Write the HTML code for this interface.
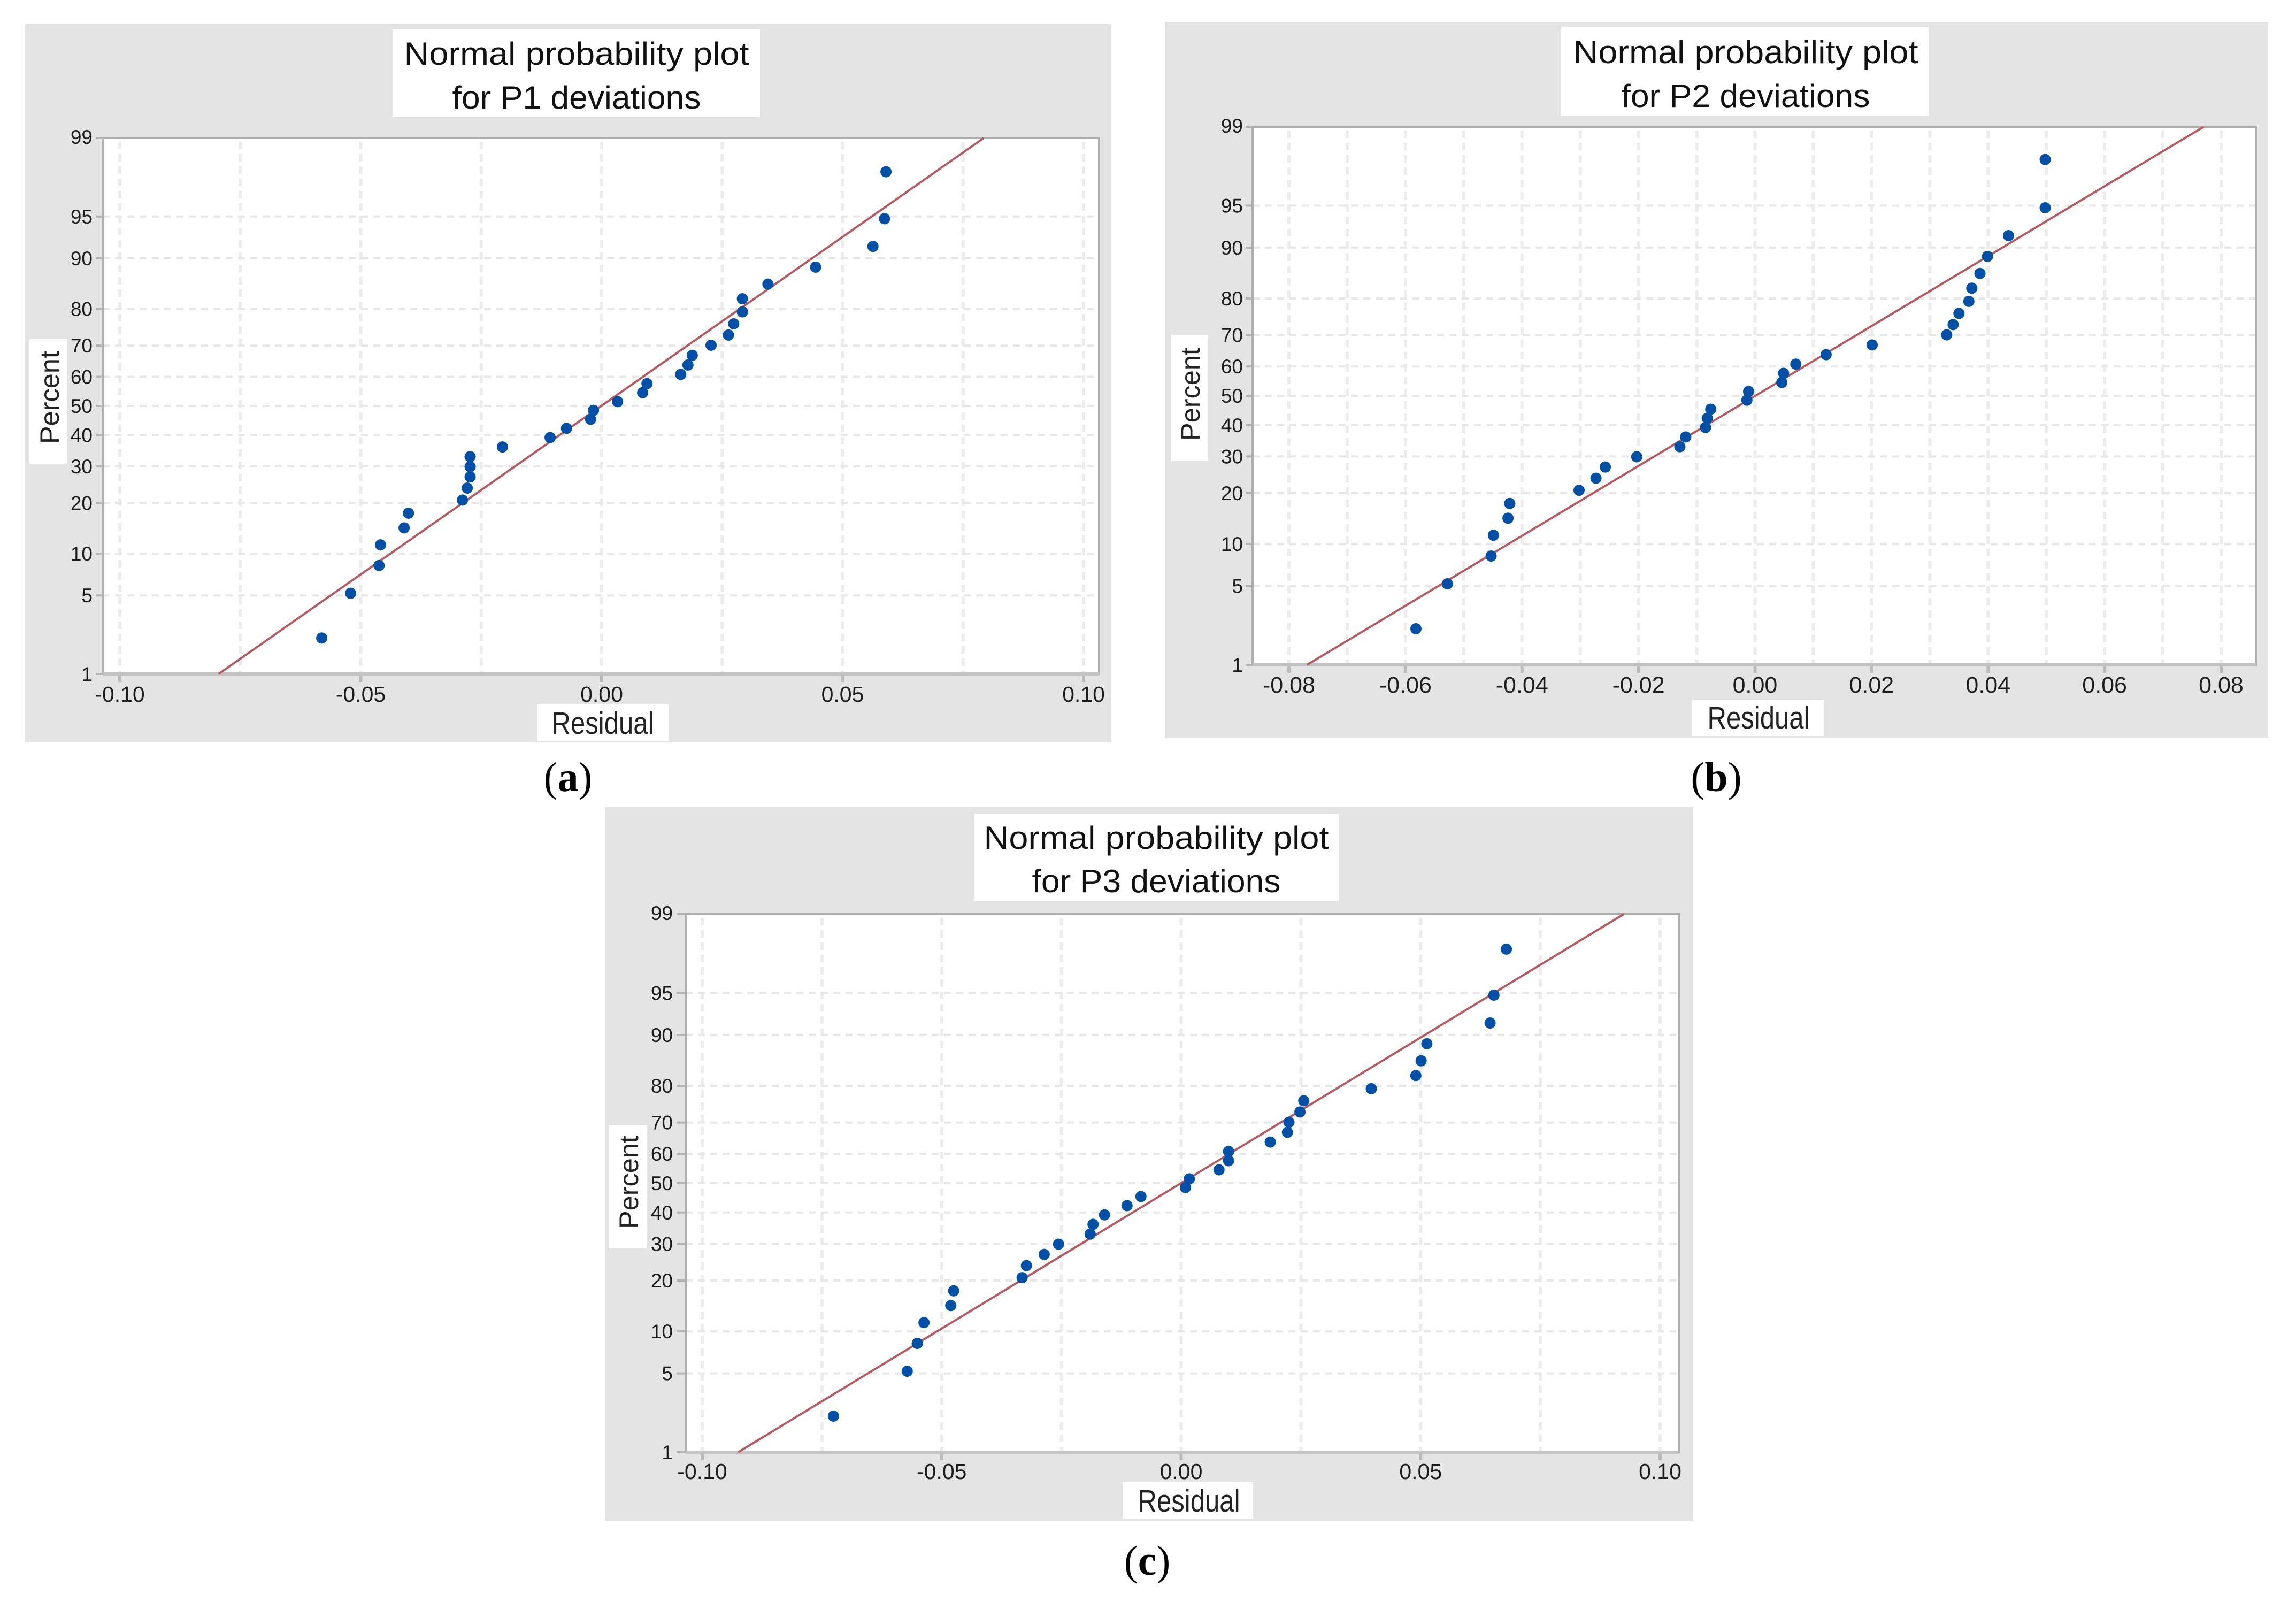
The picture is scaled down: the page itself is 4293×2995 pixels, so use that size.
<!DOCTYPE html>
<html lang="en">
<head>
<meta charset="utf-8">
<title>Normal probability plots for P1, P2 and P3 deviations</title>
<style>
html,body{margin:0;padding:0;background:#fff;width:4293px;height:2995px;overflow:hidden}
svg{display:block}
text{font-family:"Liberation Sans",sans-serif;fill:#1c1c1c}
.title{font-size:60px;text-anchor:middle;fill:#111}
.axis-title{text-anchor:middle;fill:#222}
.caption{font-family:"Liberation Serif",serif;font-size:78px;text-anchor:middle;fill:#000}
.caption tspan{font-weight:bold}
</style>
</head>
<body>
<svg id="figure" xmlns="http://www.w3.org/2000/svg" width="4293" height="2995" viewBox="0 0 4293 2995">
  <rect x="0" y="0" width="4293" height="2995" fill="#ffffff"/>

  <g id="panel-a">
    <rect x="47" y="45" width="2031" height="1343" fill="#e4e4e4"/>
    <rect x="192" y="258" width="1863" height="1002" fill="#ffffff"/>
    <g id="marks-a"></g>
    <rect x="734" y="55" width="687" height="164" fill="#ffffff"/>
    <text class="title" x="1078" y="121" textLength="645" lengthAdjust="spacingAndGlyphs">Normal probability plot</text>
    <text class="title" x="1078" y="203" textLength="465" lengthAdjust="spacingAndGlyphs">for P1 deviations</text>
    <rect x="55" y="634" width="71" height="233" fill="#ffffff"/>
    <text class="axis-title" font-size="50" transform="translate(110 743) rotate(-90)" textLength="174" lengthAdjust="spacingAndGlyphs">Percent</text>
    <rect x="1005" y="1317" width="245" height="69" fill="#ffffff"/>
    <text class="axis-title" font-size="58" x="1127" y="1372" textLength="191" lengthAdjust="spacingAndGlyphs">Residual</text>
    <text class="caption" x="1062" y="1479">(<tspan>a</tspan>)</text>
  </g>

  <g id="panel-b">
    <rect x="2178" y="41" width="2063" height="1339" fill="#e4e4e4"/>
    <rect x="2342" y="237" width="1876" height="1006" fill="#ffffff"/>
    <g id="marks-b"></g>
    <rect x="2919" y="51" width="687" height="165" fill="#ffffff"/>
    <text class="title" x="3264" y="118" textLength="645" lengthAdjust="spacingAndGlyphs">Normal probability plot</text>
    <text class="title" x="3264" y="200" textLength="465" lengthAdjust="spacingAndGlyphs">for P2 deviations</text>
    <rect x="2190" y="626" width="69" height="236" fill="#ffffff"/>
    <text class="axis-title" font-size="50" transform="translate(2243 737) rotate(-90)" textLength="174" lengthAdjust="spacingAndGlyphs">Percent</text>
    <rect x="3164" y="1308" width="247" height="68" fill="#ffffff"/>
    <text class="axis-title" font-size="58" x="3288" y="1362" textLength="191" lengthAdjust="spacingAndGlyphs">Residual</text>
    <text class="caption" x="3209" y="1479">(<tspan>b</tspan>)</text>
  </g>

  <g id="panel-c">
    <rect x="1131" y="1508" width="2035" height="1336" fill="#e4e4e4"/>
    <rect x="1282" y="1709" width="1858" height="1006" fill="#ffffff"/>
    <g id="marks-c"></g>
    <rect x="1821" y="1521" width="682" height="164" fill="#ffffff"/>
    <text class="title" x="2162" y="1587" textLength="645" lengthAdjust="spacingAndGlyphs">Normal probability plot</text>
    <text class="title" x="2162" y="1668" textLength="465" lengthAdjust="spacingAndGlyphs">for P3 deviations</text>
    <rect x="1138" y="2104" width="71" height="230" fill="#ffffff"/>
    <text class="axis-title" font-size="50" transform="translate(1193 2210) rotate(-90)" textLength="174" lengthAdjust="spacingAndGlyphs">Percent</text>
    <rect x="2099" y="2771" width="244" height="68" fill="#ffffff"/>
    <text class="axis-title" font-size="58" x="2223" y="2826" textLength="191" lengthAdjust="spacingAndGlyphs">Residual</text>
    <text class="caption" x="2145" y="2944">(<tspan>c</tspan>)</text>
  </g>
</svg>

<script>
// ---- Shared axis data ----
const percentTicks = [1, 5, 10, 20, 30, 40, 50, 60, 70, 80, 90, 95, 99];

// ---- Panel (a) P1 ----
const p1Residuals = [-0.0581,-0.0521,-0.0462,-0.0459,-0.0410,-0.0401,-0.0289,-0.0279,-0.0273,-0.0273,-0.0273,-0.0206,-0.0107,-0.0073,-0.0023,-0.0017,0.0033,0.0085,0.0094,0.0164,0.0179,0.0188,0.0227,0.0263,0.0274,0.0292,0.0292,0.0345,0.0444,0.0563,0.0587,0.0590];
const p1Percents = [2.2,5.2,8.3,11.4,14.5,17.6,20.7,23.8,26.9,29.9,33.0,36.1,39.2,42.3,45.4,48.5,51.5,54.6,57.7,60.8,63.9,67.0,70.1,73.1,76.2,79.3,82.4,85.5,88.6,91.7,94.8,97.9];
const p1FitResiduals = [-0.0795, 0.0793];
const p1FitPercents = [1, 99];
const p1GridValues = [-0.10,-0.075,-0.05,-0.025,0,0.025,0.05,0.075,0.10];
const p1TickValues = [-0.10,-0.05,0,0.05,0.10];
const p1TickLabels = ['-0.10','-0.05','0.00','0.05','0.10'];

// ---- Panel (b) P2 ----
const p2Residuals = [-0.0582,-0.0528,-0.0453,-0.0449,-0.0424,-0.0421,-0.0302,-0.0273,-0.0257,-0.0203,-0.0129,-0.0119,-0.0085,-0.0082,-0.0076,-0.0014,-0.0011,0.0046,0.0049,0.0070,0.0122,0.0201,0.0329,0.0340,0.0350,0.0367,0.0372,0.0386,0.0399,0.0435,0.0498,0.0498];
const p2Percents = [2.2,5.2,8.3,11.4,14.5,17.6,20.7,23.8,26.9,29.9,33.0,36.1,39.2,42.3,45.4,48.5,51.5,54.6,57.7,60.8,63.9,67.0,70.1,73.1,76.2,79.3,82.4,85.5,88.6,91.7,94.8,97.95];
const p2FitResiduals = [-0.0769, 0.0770];
const p2FitPercents = [1, 99];
const p2GridValues = [-0.08,-0.07,-0.06,-0.05,-0.04,-0.03,-0.02,-0.01,0,0.01,0.02,0.03,0.04,0.05,0.06,0.07,0.08];
const p2TickValues = [-0.08,-0.06,-0.04,-0.02,0,0.02,0.04,0.06,0.08];
const p2TickLabels = ['-0.08','-0.06','-0.04','-0.02','0.00','0.02','0.04','0.06','0.08'];

// ---- Panel (c) P3 ----
const p3Residuals = [-0.0726,-0.0572,-0.0551,-0.0537,-0.0481,-0.0475,-0.0332,-0.0323,-0.0286,-0.0256,-0.0190,-0.0184,-0.0160,-0.0113,-0.0084,0.0009,0.0017,0.0079,0.0099,0.0099,0.0186,0.0222,0.0225,0.0248,0.0256,0.0397,0.0490,0.0501,0.0513,0.0645,0.0653,0.0679];
const p3Percents = [2.2,5.2,8.3,11.4,14.5,17.6,20.7,23.8,26.9,29.9,33.0,36.1,39.2,42.3,45.4,48.5,51.5,54.6,57.7,60.8,63.9,67.0,70.1,73.1,76.2,79.3,82.4,85.5,88.6,91.7,94.8,97.85];
const p3FitResiduals = [-0.0925, 0.0924];
const p3FitPercents = [1, 99];
const p3GridValues = [-0.10,-0.075,-0.05,-0.025,0,0.025,0.05,0.075,0.10];
const p3TickValues = [-0.10,-0.05,0,0.05,0.10];
const p3TickLabels = ['-0.10','-0.05','0.00','0.05','0.10'];

const SVG_NS = 'http://www.w3.org/2000/svg';

// Inverse standard normal CDF (Acklam) used by the probability axis
function probit(p) {
  const a = [-39.69683028665376,220.9460984245205,-275.9285104469687,138.3577518672690,-30.66479806614716,2.506628277459239];
  const b = [-54.47609879822406,161.5858368580409,-155.6989798598866,66.80131188771972,-13.28068155288572];
  const c = [-0.007784894002430293,-0.3223964580411365,-2.400758277161838,-2.549732539343734,4.374664141464968,2.938163982698783];
  const d = [0.007784695709041462,0.3224671290700398,2.445134137142996,3.754408661907416];
  const low = 0.02425;
  let q, r;
  if (p < low) {
    q = Math.sqrt(-2 * Math.log(p));
    return (((((c[0]*q+c[1])*q+c[2])*q+c[3])*q+c[4])*q+c[5]) / ((((d[0]*q+d[1])*q+d[2])*q+d[3])*q+1);
  }
  if (p > 1 - low) {
    q = Math.sqrt(-2 * Math.log(1 - p));
    return -(((((c[0]*q+c[1])*q+c[2])*q+c[3])*q+c[4])*q+c[5]) / ((((d[0]*q+d[1])*q+d[2])*q+d[3])*q+1);
  }
  q = p - 0.5;
  r = q * q;
  return (((((a[0]*r+a[1])*r+a[2])*r+a[3])*r+a[4])*r+a[5])*q / (((((b[0]*r+b[1])*r+b[2])*r+b[3])*r+b[4])*r+1);
}

function node(parent, tag, attrs, content) {
  const el = document.createElementNS(SVG_NS, tag);
  Object.keys(attrs).forEach(function (k) { el.setAttribute(k, attrs[k]); });
  if (content !== undefined) el.textContent = content;
  parent.appendChild(el);
  return el;
}

function drawPanel(cfg) {
  const group = document.getElementById(cfg.groupId);
  const xScale = function (v) { return cfg.xZero + v * cfg.xPerUnit; };
  const zMax = probit(0.99);
  const yScale = function (pct) {
    return cfg.bottom + (probit(pct / 100) + zMax) / (2 * zMax) * (cfg.top - cfg.bottom);
  };

  cfg.grid.forEach(function (v) {
    const el = node(group, 'line', { x1: xScale(v), x2: xScale(v), y1: cfg.top + 7, y2: cfg.bottom, stroke: '#ececec', 'stroke-width': 6, 'stroke-dasharray': '14 9' });
    
    
  });

  percentTicks.forEach(function (t) {
    const y = yScale(t);
    if (t !== 1 && t !== 99) {
      const el = node(group, 'line', { x1: cfg.left, x2: cfg.right, y1: y, y2: y, stroke: '#e7e7e7', 'stroke-width': 4, 'stroke-dasharray': '13 10' });
      
      
    }
    const tick = node(group, 'line', { x1: cfg.yTickStart, x2: cfg.left, y1: y, y2: y, stroke: '#b4b4b4', 'stroke-width': 4 });
    
    
    const label = node(group, 'text', { x: cfg.yLabelX, y: y + (t === 99 ? 11 : 13), 'text-anchor': 'end', 'font-size': 37 }, String(t));
    
    
  });

  cfg.ticks.forEach(function (v, i) {
    const x = xScale(v);
    const tick = node(group, 'line', { x1: x, x2: x, y1: cfg.bottom, y2: cfg.bottom + 15, stroke: '#bbbbbb', 'stroke-width': 6 });
    
    
    const label = node(group, 'text', { x: x, y: cfg.xLabelY, 'text-anchor': 'middle', 'font-size': cfg.xFont }, cfg.tickLabels[i]);
    
    
  });

  const frame = node(group, 'rect', { x: cfg.left, y: cfg.top, width: cfg.right - cfg.left, height: cfg.bottom - cfg.top, fill: 'none', stroke: '#adadad', 'stroke-width': 4 });
  
  

  const axis = node(group, 'line', { x1: cfg.left, x2: cfg.right, y1: cfg.bottom, y2: cfg.bottom, stroke: '#c2c2c2', 'stroke-width': 6 });
  
  

  const fit = node(group, 'line', {
    x1: xScale(cfg.fitX[0]), y1: yScale(cfg.fitP[0]),
    x2: xScale(cfg.fitX[1]), y2: yScale(cfg.fitP[1]),
    stroke: '#b65a5f', 'stroke-width': 4
  });
  
  

  cfg.xs.forEach(function (v, i) {
    const dot = node(group, 'ellipse', { cx: xScale(v), cy: yScale(cfg.ps[i]), rx: 10.5, ry: 10.5, fill: '#0050a8' });
    
    
  });
}

drawPanel({
  groupId: 'marks-a', left: 192, right: 2055, top: 258, bottom: 1260,
  xZero: 1125, xPerUnit: 9010, yLabelX: 173, yTickStart: 180, xLabelY: 1312, xFont: 41,
  grid: p1GridValues, ticks: p1TickValues, tickLabels: p1TickLabels,
  xs: p1Residuals, ps: p1Percents, fitX: p1FitResiduals, fitP: p1FitPercents
});
drawPanel({
  groupId: 'marks-b', left: 2342, right: 4218, top: 237, bottom: 1243,
  xZero: 3281.5, xPerUnit: 10894, yLabelX: 2324, yTickStart: 2329, xLabelY: 1295, xFont: 43,
  grid: p2GridValues, ticks: p2TickValues, tickLabels: p2TickLabels,
  xs: p2Residuals, ps: p2Percents, fitX: p2FitResiduals, fitP: p2FitPercents
});
drawPanel({
  groupId: 'marks-c', left: 1282, right: 3140, top: 1709, bottom: 2715,
  xZero: 2208.5, xPerUnit: 8955, yLabelX: 1258, yTickStart: 1265, xLabelY: 2765, xFont: 41,
  grid: p3GridValues, ticks: p3TickValues, tickLabels: p3TickLabels,
  xs: p3Residuals, ps: p3Percents, fitX: p3FitResiduals, fitP: p3FitPercents
});
</script>
</body>
</html>
